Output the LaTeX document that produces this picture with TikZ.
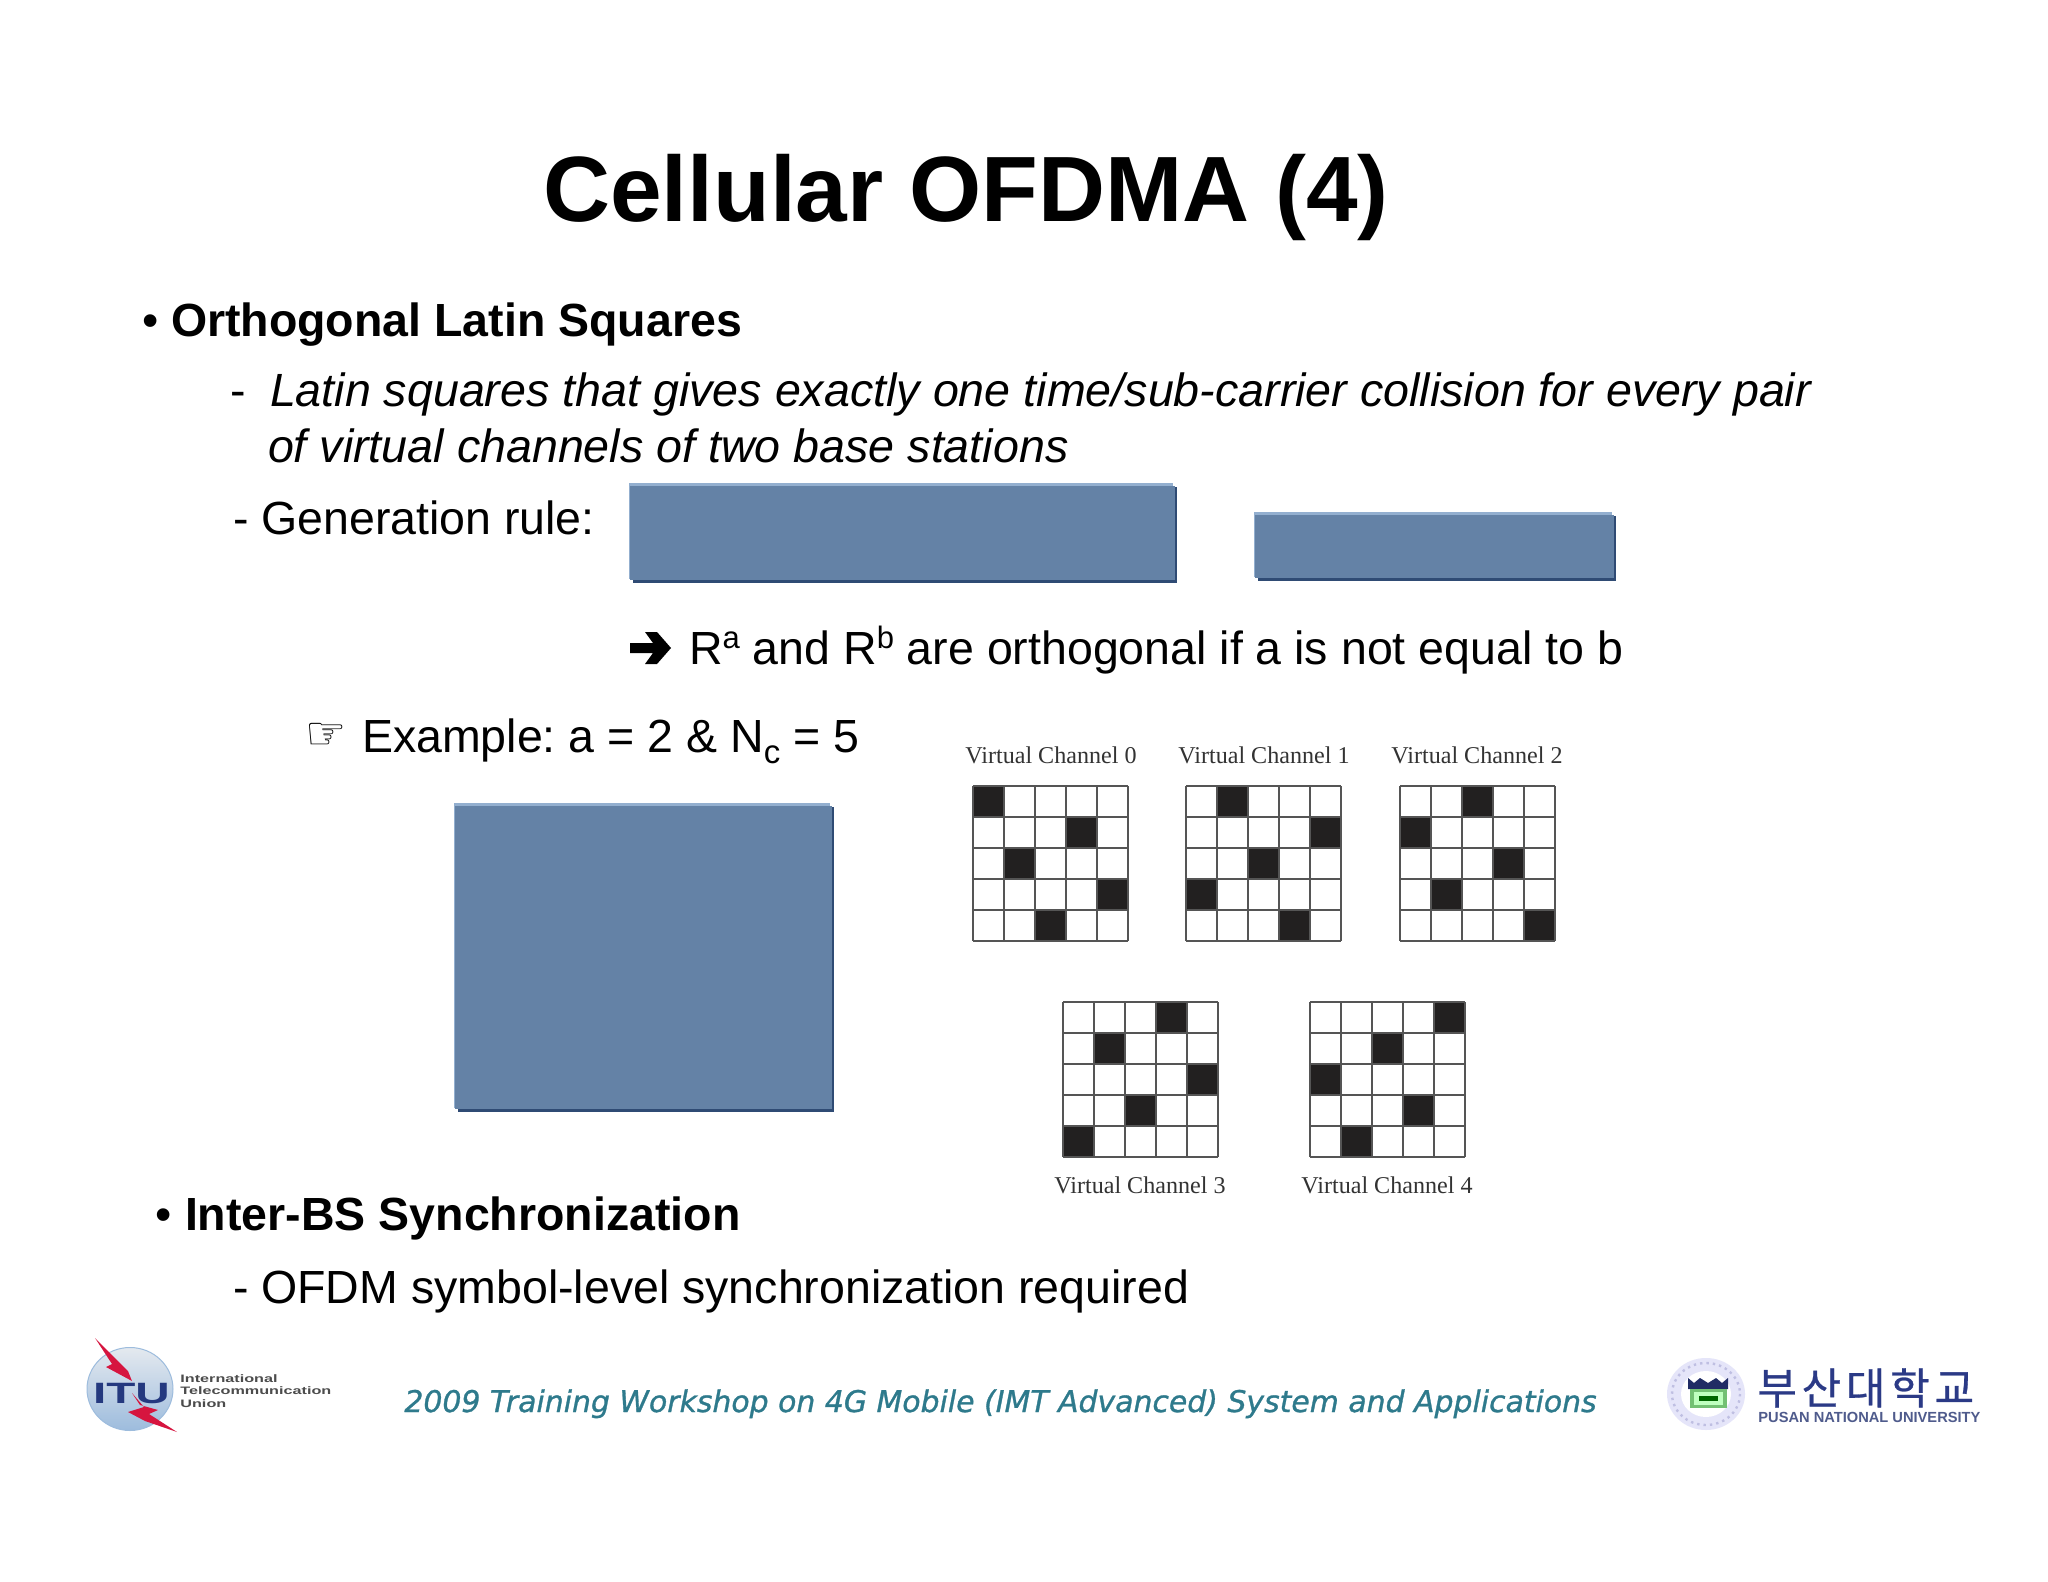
\documentclass[tikz,border=0pt]{standalone}
\usepackage{fontspec}
\setmainfont{Liberation Sans}
\newfontfamily\timesf{Liberation Serif}
\newfontfamily\dejavu{DejaVu Sans}
\newfontfamily\dejavuban[FakeBold=1]{DejaVu Sans}
\newfontfamily\kofont[LetterSpace=11,FakeBold=0.6]{Noto Sans CJK KR}
\frenchspacing
\definecolor{boxfill}{HTML}{6482A6}
\definecolor{boxlight}{HTML}{93AFCF}
\definecolor{boxdark}{HTML}{2F4B74}
\definecolor{cellblack}{HTML}{222020}
\definecolor{gridline}{HTML}{555555}
\definecolor{teal}{HTML}{2E7A8C}
\definecolor{itunavy}{HTML}{24397F}
\definecolor{bolt}{HTML}{D6153F}
\definecolor{pnunavy}{HTML}{2B3A86}
\definecolor{pnugrey}{HTML}{4F5B8C}
\definecolor{globetop}{HTML}{E4E9EF}
\definecolor{globemid}{HTML}{C6D6E8}
\definecolor{globelow}{HTML}{9DBCDD}
\tikzset{
  txt/.style={anchor=base west,inner sep=0pt,outer sep=0pt,font=\fontsize{23.25}{26}\selectfont},
  bodyb/.style={txt,font=\fontsize{23.25}{26}\selectfont\bfseries},
  bodyi/.style={txt,font=\fontsize{23.3}{26}\selectfont\itshape},
  vclabel/.style={anchor=base,inner sep=0pt,outer sep=0pt,text=black!80,font=\timesf\fontsize{12.05}{13}\selectfont},
  itusmall/.style={anchor=base west,inner sep=0pt,text=black!70,font=\bfseries\fontsize{5.4}{6}\selectfont},
  gridstroke/.style={draw=gridline,line width=0.75pt},
}
\newcommand{\bluebox}[5]{%
  \fill[boxdark] (#2+4,#3+4) rectangle (#4,#5);
  \fill[boxlight] (#2,#3) rectangle (#4-4,#5-4);
  \fill[boxfill] (#2+1,#3+3) rectangle (#4-2,#5-3);
  \coordinate (#1) at (#2,#3);
}
\newcommand{\vcgrid}[3]{%
  \begin{scope}[shift={(#1,#2)}]
    \foreach \r/\c in {#3}{
      \fill[cellblack] (\c*31,\r*31) rectangle ++(31,31);
    }
    \foreach \i in {0,...,5}{
      \draw[gridstroke] (\i*31,0) -- (\i*31,155);
      \draw[gridstroke] (0,\i*31) -- (155,\i*31);
    }
  \end{scope}
}
\begin{document}
\begin{tikzpicture}[x=0.5pt,y=-0.5pt]
\useasboundingbox (0,0) rectangle (2048,1582);
\fill[white] (0,0) rectangle (2048,1582);

\node[anchor=base,inner sep=0pt,font=\fontsize{46.4}{50}\selectfont\bfseries] (title) at (966,222) {Cellular OFDMA (4)};

\node[txt] (b1) at (142,337) {•};
\node[bodyb] (h1) at (171,337) {Orthogonal Latin Squares};
\node[txt] (d1) at (230,407) {-};
\node[bodyi] (l1) at (270,407) {Latin squares that gives exactly one time/sub-carrier collision for every pair};
\node[bodyi] (l2) at (268,463) {of virtual channels of two base stations};
\node[txt] (gen) at (233,535) {- Generation rule:};

\bluebox{r1}{629}{483}{1177}{583}
\bluebox{r2}{1254}{512}{1616}{581}

\fill[black] (630,643) -- (653,643) -- (645,632) -- (657,632) -- (671,648) -- (657,664) -- (645,664) -- (653,653) -- (630,653) -- cycle;
\node[txt] (orth) at (689,664) {R\raisebox{8pt}{\fontsize{15.5}{16}\selectfont a} and R\raisebox{8pt}{\fontsize{15.5}{16}\selectfont b} are orthogonal if a is not equal to b};

\node[txt,font=\dejavu\fontsize{23}{24}\selectfont] (hand) at (305,749) {☞};
\node[txt] (ex) at (362,752) {Example: a = 2 \& N\raisebox{-5.5pt}{\fontsize{16.5}{17}\selectfont c} = 5};

\bluebox{r3}{454}{803}{834}{1112}

\node[vclabel] (v0) at (1051,763) {Virtual Channel 0};
\node[vclabel] (v1) at (1264,763) {Virtual Channel 1};
\node[vclabel] (v2) at (1477,763) {Virtual Channel 2};
\vcgrid{973}{786}{0/0,1/3,2/1,3/4,4/2}
\vcgrid{1186}{786}{0/1,1/4,2/2,3/0,4/3}
\vcgrid{1400}{786}{0/2,1/0,2/3,3/1,4/4}
\vcgrid{1063}{1002}{0/3,1/1,2/4,3/2,4/0}
\vcgrid{1310}{1002}{0/4,1/2,2/0,3/3,4/1}
\node[vclabel] (v3) at (1140,1193) {Virtual Channel 3};
\node[vclabel] (v4) at (1387,1193) {Virtual Channel 4};

\node[txt] (b2) at (155,1230) {•};
\node[bodyb] (h2) at (185,1230) {Inter-BS Synchronization};
\node[txt] (sync) at (233,1303) {- OFDM symbol-level synchronization required};

% ITU logo
\shade[top color=globetop,middle color=globemid,bottom color=globelow,draw=globelow,line width=0.5pt] (130,1389) circle [x radius=43,y radius=41.5];
\fill[bolt] (95,1338) -- (112,1364) -- (106,1367) -- (132,1381) -- (128,1371) -- (114,1357) -- cycle;
\node[anchor=base,inner sep=0pt,text=itunavy,font=\bfseries\fontsize{14.7}{16}\selectfont] (itu) at (131.5,1403) {\scalebox{1.62}[1]{ITU}};
\fill[bolt] (132,1393) -- (140,1405) -- (158,1410) -- (149,1414) -- (177,1432) -- (145,1421) -- (128,1412) -- (144,1407) -- cycle;
\node[itusmall] (i1) at (180,1382) {\scalebox{1.5}[1]{International}};
\node[itusmall] (i2) at (180,1394) {\scalebox{1.5}[1]{Telecommunication}};
\node[itusmall] (i3) at (180,1407) {\scalebox{1.5}[1]{Union}};

% workshop banner
\node[anchor=base west,inner sep=0pt,text=teal,font=\dejavuban\itshape\fontsize{14}{16}\selectfont] (ws) at (404,1412) {\resizebox{596pt}{!}{2009 Training Workshop on 4G Mobile (IMT Advanced) System and Applications}};

% PNU logo
\fill[black!22!blue!10!white] (1706,1394) circle [x radius=39,y radius=36];
\draw[black!45!blue!25!white,line width=1.2pt,dotted] (1706,1394) circle [x radius=34,y radius=31];
\fill[white] (1706,1394) circle [x radius=25,y radius=23];
\fill[pnunavy!75!black] (1688,1378) -- (1694,1383) -- (1700,1378) -- (1708,1383) -- (1716,1378) -- (1722,1383) -- (1728,1378) -- (1728,1389) -- (1688,1389) -- cycle;
\fill[green!55!black!55!white] (1690,1389) rectangle (1727,1408);
\fill[green!25!white] (1694,1392) rectangle (1723,1405);
\fill[green!40!black] (1699,1396) rectangle (1718,1401);
\node[anchor=base west,inner sep=0pt,text=pnunavy,font=\kofont\fontsize{21.5}{23}\selectfont] (kr) at (1757,1404) {부산대학교};
\node[anchor=base west,inner sep=0pt,text=pnugrey,font=\bfseries\fontsize{7}{8}\selectfont] (pnu) at (1758,1422) {\resizebox{111pt}{!}{PUSAN NATIONAL UNIVERSITY}};
\end{tikzpicture}
\end{document}
